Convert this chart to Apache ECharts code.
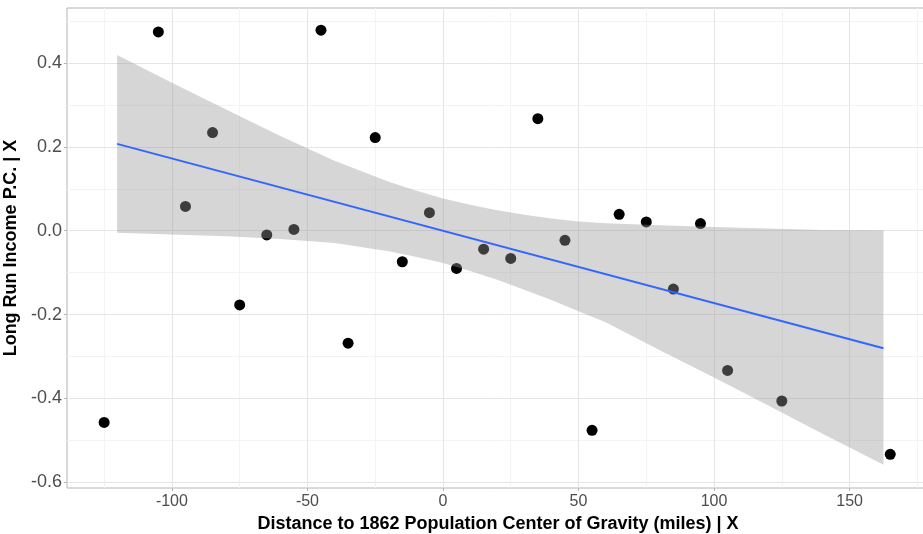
<!DOCTYPE html>
<html>
<head>
<meta charset="utf-8">
<script src="https://cdn.jsdelivr.net/npm/echarts@6.0.0/dist/echarts.min.js"></script>
<style>
  html, body { margin: 0; padding: 0; background: #fff; }
  #main { width: 923px; height: 534px; }
</style>
</head>
<body>
<div id="main"></div>
<script>
// points (binned means)
const distX = [-125, -105, -95, -85, -75, -65, -55, -45, -35, -25, -15, -5, 5, 15, 25, 35, 45, 55, 65, 75, 85, 95, 105, 125, 165];
const incomeY = [-0.457, 0.474, 0.058, 0.234, -0.177, -0.010, 0.003, 0.478, -0.268, 0.222, -0.074, 0.043, -0.090, -0.044, -0.066, 0.267, -0.023, -0.476, 0.039, 0.021, -0.139, 0.017, -0.333, -0.406, -0.533];

// linear fit
const fitX = [-120.2, 162.5];
const fitY = [0.207, -0.280];

// confidence band
const bandX = [-120.2, -100, -80, -60, -40, -20, -10, 0, 10, 20, 30, 40, 50, 60, 80, 100, 120, 140, 162.5];
const bandUpper = [0.419, 0.353, 0.289, 0.226, 0.167, 0.117, 0.096, 0.077, 0.062, 0.049, 0.038, 0.029, 0.022, 0.018, 0.013, 0.009, 0.005, 0.002, 0.001];
const bandLower = [-0.005, -0.009, -0.013, -0.020, -0.029, -0.049, -0.062, -0.077, -0.096, -0.117, -0.141, -0.165, -0.192, -0.218, -0.285, -0.350, -0.417, -0.484, -0.558];

// ticks and grid lines
const xTicks = [-100, -50, 0, 50, 100, 150];
const xMinor = [-125, -75, -25, 25, 75, 125, 175];
const yTicks = [-0.6, -0.4, -0.2, 0.0, 0.2, 0.4];
const yMinor = [-0.5, -0.3, -0.1, 0.1, 0.3, 0.5];

const font = "'Liberation Sans', Arial, sans-serif";

let gridLines = [];
for (let v of xMinor) gridLines.push({ xAxis: v, lineStyle: { color: '#f3f3f3', width: 1, type: 'solid' } });
for (let v of yMinor) gridLines.push({ yAxis: v, lineStyle: { color: '#f3f3f3', width: 1, type: 'solid' } });
for (let v of xTicks) gridLines.push({ xAxis: v, lineStyle: { color: '#e5e5e5', width: 1, type: 'solid' } });
for (let v of yTicks) gridLines.push({ yAxis: v, lineStyle: { color: '#e5e5e5', width: 1, type: 'solid' } });

let points = distX.map((x, i) => [x, incomeY[i]]);
let fitLine = fitX.map((x, i) => [x, fitY[i]]);
let band = bandX.map((x, i) => [x, bandUpper[i], bandLower[i]]);

let myChart = echarts.init(document.getElementById('main'));
myChart.setOption({
  animation: false,
  backgroundColor: '#fff',
  grid: {
    left: 67,
    top: 8,
    width: 862,
    bottom: 46,
    outerBoundsMode: 'none',
    containLabel: false,
    show: true,
    borderColor: '#b3b3b3',
    borderWidth: 1,
    backgroundColor: 'transparent'
  },
  xAxis: {
    type: 'value',
    min: -138.7,
    max: 179.3,
    name: 'Distance to 1862 Population Center of Gravity (miles) | X',
    nameLocation: 'middle',
    nameGap: 21,
    nameTextStyle: { fontFamily: font, fontSize: 18, fontWeight: 'bold', color: '#000' },
    axisLine: { show: false, onZero: false },
    axisTick: { show: true, length: 3, customValues: xTicks, lineStyle: { color: '#b3b3b3' } },
    axisLabel: { customValues: xTicks, margin: 6, fontFamily: font, fontSize: 16, color: '#4d4d4d' },
    splitLine: { show: false }
  },
  yAxis: {
    type: 'value',
    min: -0.6134,
    max: 0.531,
    name: 'Long Run Income P.C. | X',
    nameLocation: 'middle',
    nameGap: 38,
    nameTextStyle: { fontFamily: font, fontSize: 18, fontWeight: 'bold', color: '#000' },
    axisLine: { show: false, onZero: false },
    axisTick: { show: true, length: 3, customValues: yTicks, lineStyle: { color: '#b3b3b3' } },
    axisLabel: {
      customValues: yTicks,
      margin: 5,
      fontFamily: font,
      fontSize: 18,
      color: '#4d4d4d',
      formatter: v => v.toFixed(1)
    },
    splitLine: { show: false }
  },
  series: [
    {
      name: 'grid',
      type: 'line',
      data: [],
      z: 0,
      silent: true,
      markLine: {
        z: 0,
        silent: true,
        symbol: 'none',
        label: { show: false },
        animation: false,
        data: gridLines
      }
    },
    {
      name: 'points',
      type: 'scatter',
      data: points,
      symbolSize: 11,
      itemStyle: { color: '#000', opacity: 1 },
      z: 2
    },
    {
      name: 'band',
      type: 'custom',
      data: band,
      encode: { x: 0, y: [1, 2] },
      clip: true,
      silent: true,
      z: 3,
      renderItem: function (params, api) {
        if (params.dataIndex !== 0) return;
        let pts = [];
        for (let i = 0; i < bandX.length; i++) pts.push(api.coord([bandX[i], bandUpper[i]]));
        for (let i = bandX.length - 1; i >= 0; i--) pts.push(api.coord([bandX[i], bandLower[i]]));
        return {
          type: 'polygon',
          shape: { points: pts },
          style: { fill: 'rgba(153,153,153,0.4)' }
        };
      }
    },
    {
      name: 'fit',
      type: 'line',
      data: fitLine,
      showSymbol: false,
      lineStyle: { color: '#3366FF', width: 2 },
      z: 4
    }
  ]
});
</script>
</body>
</html>
